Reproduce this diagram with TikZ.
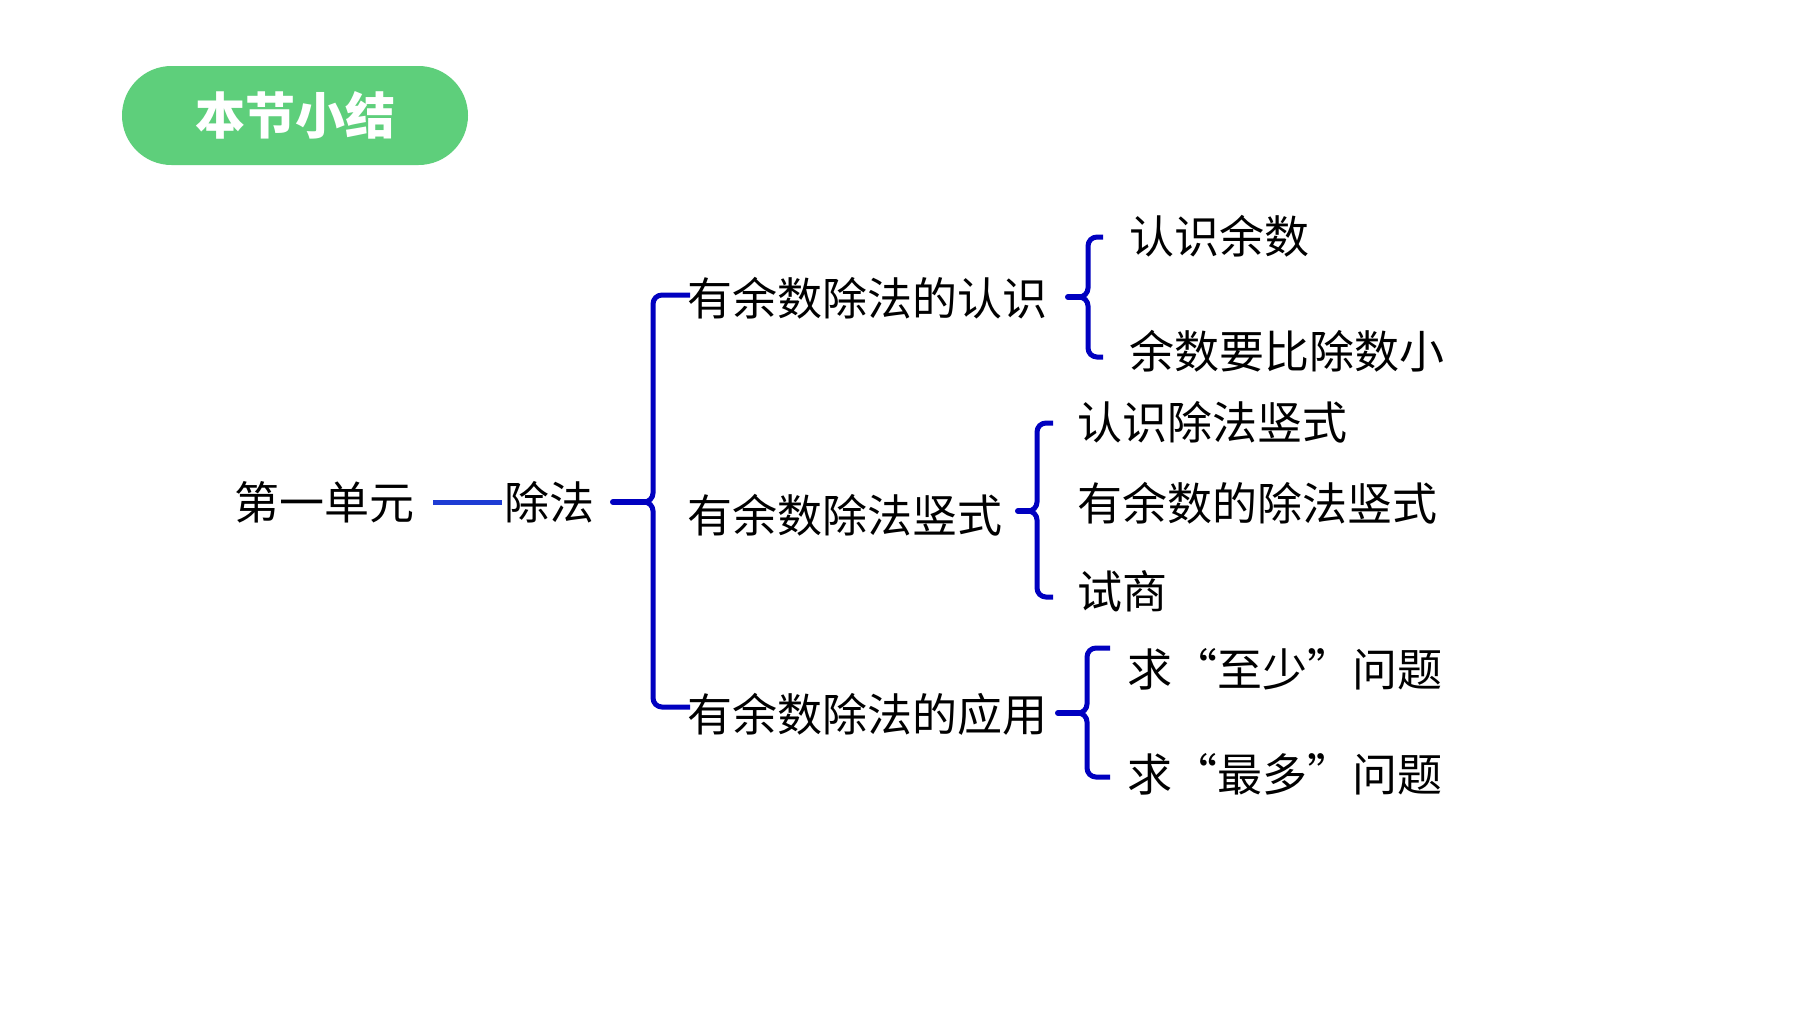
\documentclass[tikz,border=0pt]{standalone}
\usepackage{fontspec}
\newfontfamily\cjk{Noto Sans CJK SC}
\usetikzlibrary{calc}
\definecolor{pillgreen}{RGB}{94,207,123}
\definecolor{bracketblue}{RGB}{0,0,192}
\definecolor{linkblue}{RGB}{30,60,212}
\tikzset{
  lbl/.style={anchor=west, inner sep=0pt, xshift=-3pt, font=\cjk\fontsize{45}{54}\selectfont, text height=37pt, text depth=3.2pt},
  pill/.style={fill=pillgreen, rounded corners=49.5pt, minimum width=346pt, minimum height=99pt, inner sep=0pt, text=white, font=\cjk\bfseries\fontsize{50}{60}\selectfont, text height=41pt, text depth=3.5pt},
  brace/.style={draw=bracketblue, line width=5pt, rounded corners=9pt},
  stub/.style={draw=bracketblue, line width=6pt, line cap=round},
  link/.style={draw=linkblue, line width=5pt},
}
\newcommand{\mybracket}[6]{% xs, xv, ym, yt, yb, xe
  \draw[brace] (#6,#4) -- (#2,#4) -- (#2,#3) -- (#1,#3);
  \draw[brace] (#6,#5) -- (#2,#5) -- (#2,#3) -- (#1,#3);
  \draw[stub] (#1,#3) -- ($(#2,#3)+(-8,0)$);
}
\begin{document}
\begin{tikzpicture}[x=1pt,y=-1pt]
  \useasboundingbox (0,0) rectangle (1800,1012);
  \fill[white] (0,0) rectangle (1800,1012);

  % title
  \node[pill] (title) at (295,115.5) {本节小结};

  % nodes
  \node[lbl] (unit) at (237,503) {第一单元};
  \node[lbl] (chu) at (507,503) {除法};
  \node[lbl] (a1) at (690,299) {有余数除法的认识};
  \node[lbl] (a2) at (690,516) {有余数除法竖式};
  \node[lbl] (a3) at (690,715) {有余数除法的应用};
  \node[lbl] (b1) at (1132,237) {认识余数};
  \node[lbl] (b2) at (1132,352) {余数要比除数小};
  \node[lbl] (c1) at (1080,423) {认识除法竖式};
  \node[lbl] (c2) at (1080,504) {有余数的除法竖式};
  \node[lbl] (c3) at (1080,592) {试商};
  \node[lbl] (d1) at (1130,670) {求\makebox[1em][r]{“}至少\makebox[1em][l]{”}问题};
  \node[lbl] (d2) at (1130,775) {求\makebox[1em][r]{“}最多\makebox[1em][l]{”}问题};

  % link between unit and chu
  \coordinate (l0) at ($(unit.east)+(19,-1)$);
  \coordinate (l1) at ($(chu.west)+(-2,-1)$);
  \draw[link] (l0) -- (l1);

  % brackets
  \mybracket{613}{653}{502}{295}{707}{690}
  \mybracket{1068}{1088}{297}{237}{357}{1103}
  \mybracket{1018}{1037}{511}{423}{597}{1053}
  \mybracket{1058}{1087}{713}{648}{777}{1110}
\end{tikzpicture}
\end{document}
